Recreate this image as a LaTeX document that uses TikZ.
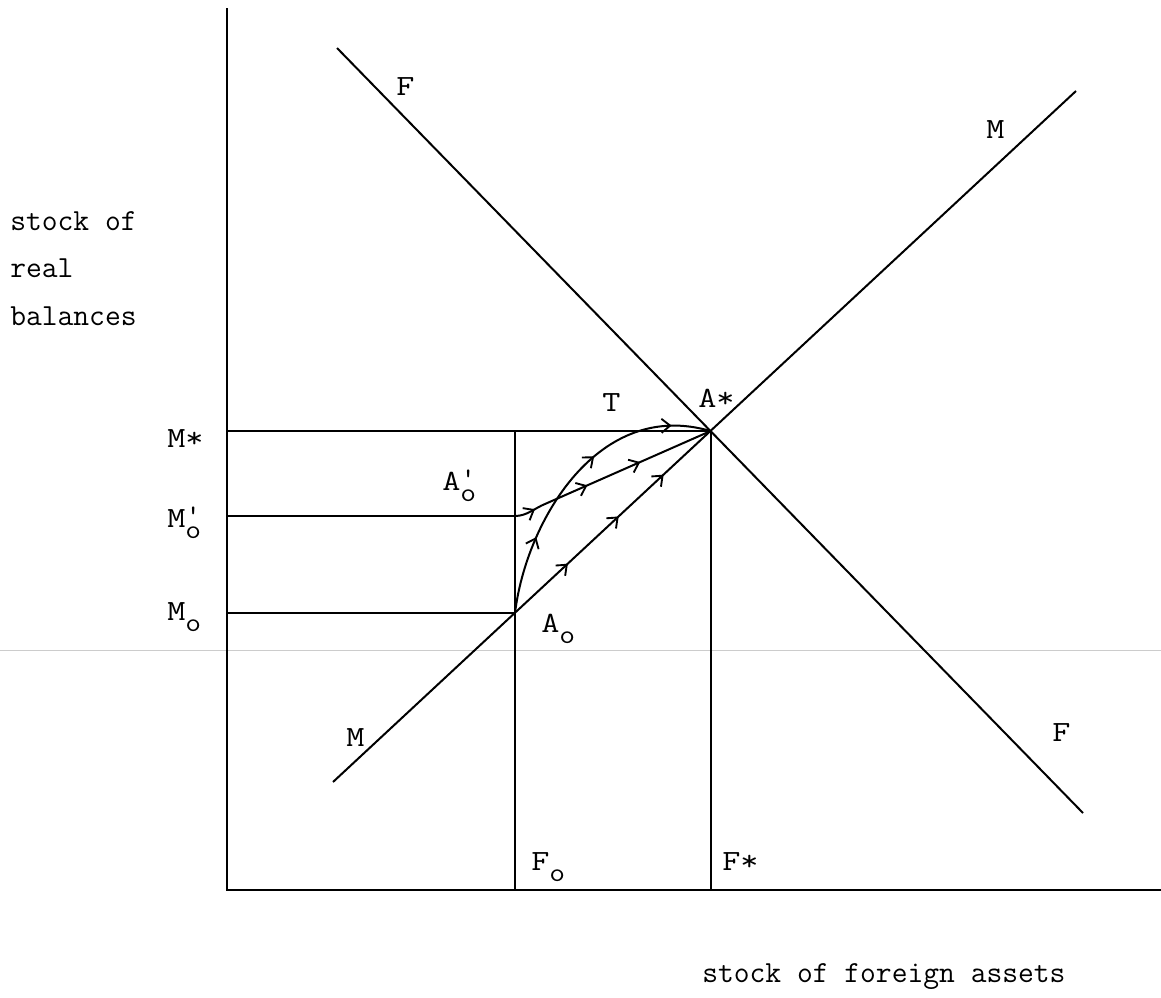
\documentclass[tikz,border=0pt]{standalone}
\usetikzlibrary{arrows.meta,decorations.markings}
\newcommand\axfont{\fontsize{23}{27}\selectfont\ttfamily}
\newcommand\lbfont{\fontsize{22}{24}\selectfont\ttfamily}
\newcommand\wide[1]{\scalebox{1.2}[1]{#1}}
\newcommand\subo{\raisebox{-8.5pt}{\scalebox{1.15}[1]{\fontsize{20}{20}\selectfont o}}}
\newcommand\subp{\rlap{\raisebox{3pt}{\scalebox{1.15}[1]{\fontsize{20}{20}\selectfont '}}}\subo}
\tikzset{
  ln/.style={line width=1.5pt},
  ax/.style={line width=1.6pt},
  lab/.style={font=\lbfont, inner sep=0pt, anchor=base west},
  axl/.style={font=\axfont, inner sep=0pt, anchor=base west},
  arrthree/.style n args={3}{postaction={decorate}, decoration={markings,
    mark=at position #1 with {\arrow[line width=1.4pt]{>}},
    mark=at position #2 with {\arrow[line width=1.4pt]{>}},
    mark=at position #3 with {\arrow[line width=1.4pt]{>}}}}
}
\begin{document}
\begin{tikzpicture}[x=0.75pt,y=-0.75pt,>={Straight Barb[length=6.5pt,width=10.5pt]}]
\useasboundingbox (0,0) rectangle (1161,997);
% scan line
\draw[gray!40, line width=0.5pt] (0,650) -- (1161,650);
% coordinates
\coordinate (O) at (227,890);
\coordinate (Ytop) at (227,8);
\coordinate (Xend) at (1161,890);
\coordinate (Ftop) at (337,48);
\coordinate (Fbot) at (1083,813);
\coordinate (Mbot) at (333,782);
\coordinate (Mtop) at (1076,91);
\coordinate (V1) at (515,0);
\coordinate (V2) at (515,1000);
\coordinate (Astar) at (intersection of Ftop--Fbot and Mbot--Mtop);
\coordinate (A0) at (intersection of Mbot--Mtop and V1--V2);
\coordinate (A0p) at (515,516);
% axes
\draw[ax] (Ytop) -- (O) -- (Xend);
% schedules
\draw[ln] (Ftop) -- (Fbot);
\draw[ln] (Mbot) -- (Mtop);
% guide lines
\draw[ln] (O |- Astar) -- (Astar);
\draw[ln] (O |- A0p) -- (A0p);
\draw[ln] (O |- A0) -- (A0);
\draw[ln] (V1 |- Astar) -- (V1 |- O);
\draw[ln] (Astar) -- (Astar |- O);
% adjustment paths
\draw[ln, arrthree={0.26}{0.59}{0.87}] (A0) .. controls (526,522) and (598,398) .. (Astar);
\draw[ln, arrthree={0.1}{0.37}{0.64}] (A0p) .. controls (527,516) and (535,508) .. (545,504) -- (Astar);
\path[arrthree={0.27}{0.53}{0.76}] (A0) -- (Astar);
% labels
\node[lab] (lF1) at (396,95) {\wide{F}};
\node[lab] (lM1) at (986,138) {\wide{M}};
\node[lab] (lM2) at (346,746) {\wide{M}};
\node[lab] (lF2) at (1052,741) {\wide{F}};
\node[lab] (lMs) at (167,447) {\wide{M*}};
\node[lab] (lMp) at (167,527) {\wide{M}\subp};
\node[lab] (lM0) at (167,620) {\wide{M}\subo};
\node[lab] (lAp) at (442,490) {\wide{A}\subp};
\node[lab] (lA0) at (541,632) {\wide{A}\subo};
\node[lab] (lF0) at (531,870) {\wide{F}\subo};
\node[lab] (lFs) at (722,870) {\wide{F*}};
\node[lab] (lT) at (602,411) {\wide{T}};
\node[lab] (lAs) at (698,407) {\wide{A*}};
\node[axl] (y1) at (10,230) {stock of};
\node[axl] (y2) at (10,277) {real};
\node[axl] (y3) at (10,325) {balances};
\node[axl] (xl) at (702,982) {stock of foreign assets};
\end{tikzpicture}
\end{document}
